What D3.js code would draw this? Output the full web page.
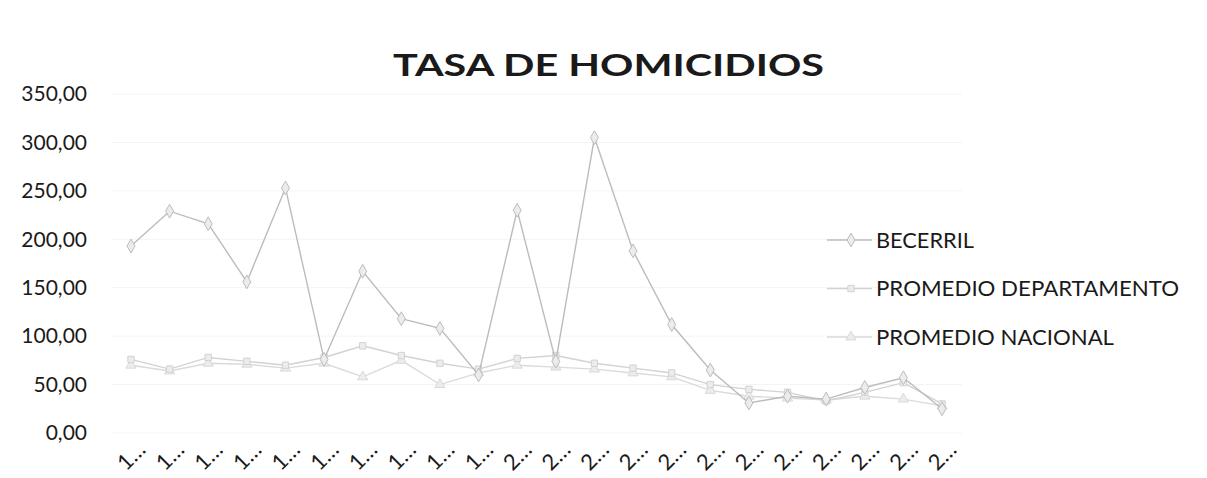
<!DOCTYPE html>
<html>
<head>
<meta charset="utf-8">
<script src="https://cdn.jsdelivr.net/npm/d3@7"></script>
<style>
  html, body { margin: 0; padding: 0; background: #ffffff; }
  svg { display: block; }
  text { font-family: Lato, "Open Sans", sans-serif; fill: #1a1a1a; }
</style>
</head>
<body>
<svg id="chart" width="1207" height="478"></svg>
<script>
// ---- data ----
const categories = [1990,1991,1992,1993,1994,1995,1996,1997,1998,1999,2000,2001,2002,2003,2004,2005,2006,2007,2008,2009,2010,2011];
const tickLabels = ["1…","1…","1…","1…","1…","1…","1…","1…","1…","1…","2…","2…","2…","2…","2…","2…","2…","2…","2…","2…","2…","2…"];
const becerril     = [193,229,216,156,253,76,167,118,108,60,230,74,305,188,112,65,31,38,35,47,57,25];
const departamento = [76,66,78,74,70,78,90,80,72,66,77,80,72,67,62,50,45,42,33,42,52,30];
const nacional     = [70,64,72,71,67,72,58,75,50,62,70,68,66,62,58,44,38,36,34,38,35,28];
const yTicks = [0,50,100,150,200,250,300,350];
const seriesNames = ["BECERRIL","PROMEDIO DEPARTAMENTO","PROMEDIO NACIONAL"];
const chartTitle = "TASA DE HOMICIDIOS";

const svg = d3.select("#chart");

const x = d3.scalePoint().domain(categories).range([131, 942]).padding(0);
const y = d3.scaleLinear().domain([0, 350]).range([433, 94]);

// gridlines (almost invisible in the scan)
svg.append("g").selectAll("line").data(yTicks).join("line")
  .attr("x1", 112).attr("x2", 962)
  .attr("y1", d => y(d)).attr("y2", d => y(d))
  .attr("stroke", "#f4f4f4").attr("stroke-width", 1);

// y axis labels
const yAxis = d3.axisLeft(y).tickValues(yTicks).tickSize(0).tickPadding(13)
  .tickFormat(d => d.toFixed(2).replace(".", ","));
const gy = svg.append("g").attr("transform", "translate(100,0)").call(yAxis);
gy.select(".domain").remove();
gy.selectAll("text").style("font-family", "Lato, sans-serif").style("font-size", "21px").attr("fill", "#1a1a1a");

// x axis labels (rotated)
const xAxis = d3.axisBottom(x).tickSize(0).tickFormat((d, i) => tickLabels[i]);
const gx = svg.append("g").call(xAxis);
gx.select(".domain").remove();
gx.selectAll(".tick").attr("transform", d => `translate(${x(d) + 16},451)`);
gx.selectAll(".tick text")
  .attr("x", 0).attr("y", 0).attr("dy", 0)
  .attr("transform", "rotate(-45)")
  .style("text-anchor", "end")
  .style("font-family", "Lato, sans-serif").style("font-size", "22px").attr("fill", "#1a1a1a");

// series
const series = [
  { name: seriesNames[0], values: becerril,     color: "#bcbcbc", marker: d3.symbolDiamond,  size: 55 },
  { name: seriesNames[1], values: departamento, color: "#d2d2d2", marker: d3.symbolSquare,   size: 40 },
  { name: seriesNames[2], values: nacional,     color: "#dadada", marker: d3.symbolTriangle, size: 45 }
];

const line = d3.line().x((d, i) => x(categories[i])).y(d => y(d));

// draw lower series first so Becerril sits on top
[...series].reverse().forEach(s => {
  const g = svg.append("g");
  g.append("path").datum(s.values).attr("d", line)
    .attr("fill", "none").attr("stroke", s.color).attr("stroke-width", 1.4);
  g.selectAll("path.m").data(s.values).join("path").attr("class", "m")
    .attr("d", d3.symbol().type(s.marker).size(s.size))
    .attr("transform", (d, i) => `translate(${x(categories[i])},${y(d)})`)
    .attr("fill", "#ececec").attr("stroke", s.color).attr("stroke-width", 1);
});

// legend
const legendWidths = [98, 303, 238];
const lg = svg.append("g");
series.forEach((s, i) => {
  const cy = 240 + i * 48.5;
  lg.append("line").attr("x1", 827).attr("x2", 872).attr("y1", cy).attr("y2", cy)
    .attr("stroke", s.color).attr("stroke-width", 1.4);
  lg.append("path").attr("d", d3.symbol().type(s.marker).size(s.size))
    .attr("transform", `translate(851,${cy})`)
    .attr("fill", "#ececec").attr("stroke", s.color);
  lg.append("text").attr("x", 876).attr("y", cy + 7.5)
    .style("font-size", "21px")
    .attr("textLength", legendWidths[i]).attr("lengthAdjust", "spacingAndGlyphs")
    .text(s.name);
});

// title
svg.append("text").attr("x", 393).attr("y", 76)
  .style("font-size", "31px").style("font-weight", "bold")
  .attr("textLength", 431).attr("lengthAdjust", "spacingAndGlyphs")
  .attr("fill", "#000")
  .text(chartTitle);
</script>
</body>
</html>
